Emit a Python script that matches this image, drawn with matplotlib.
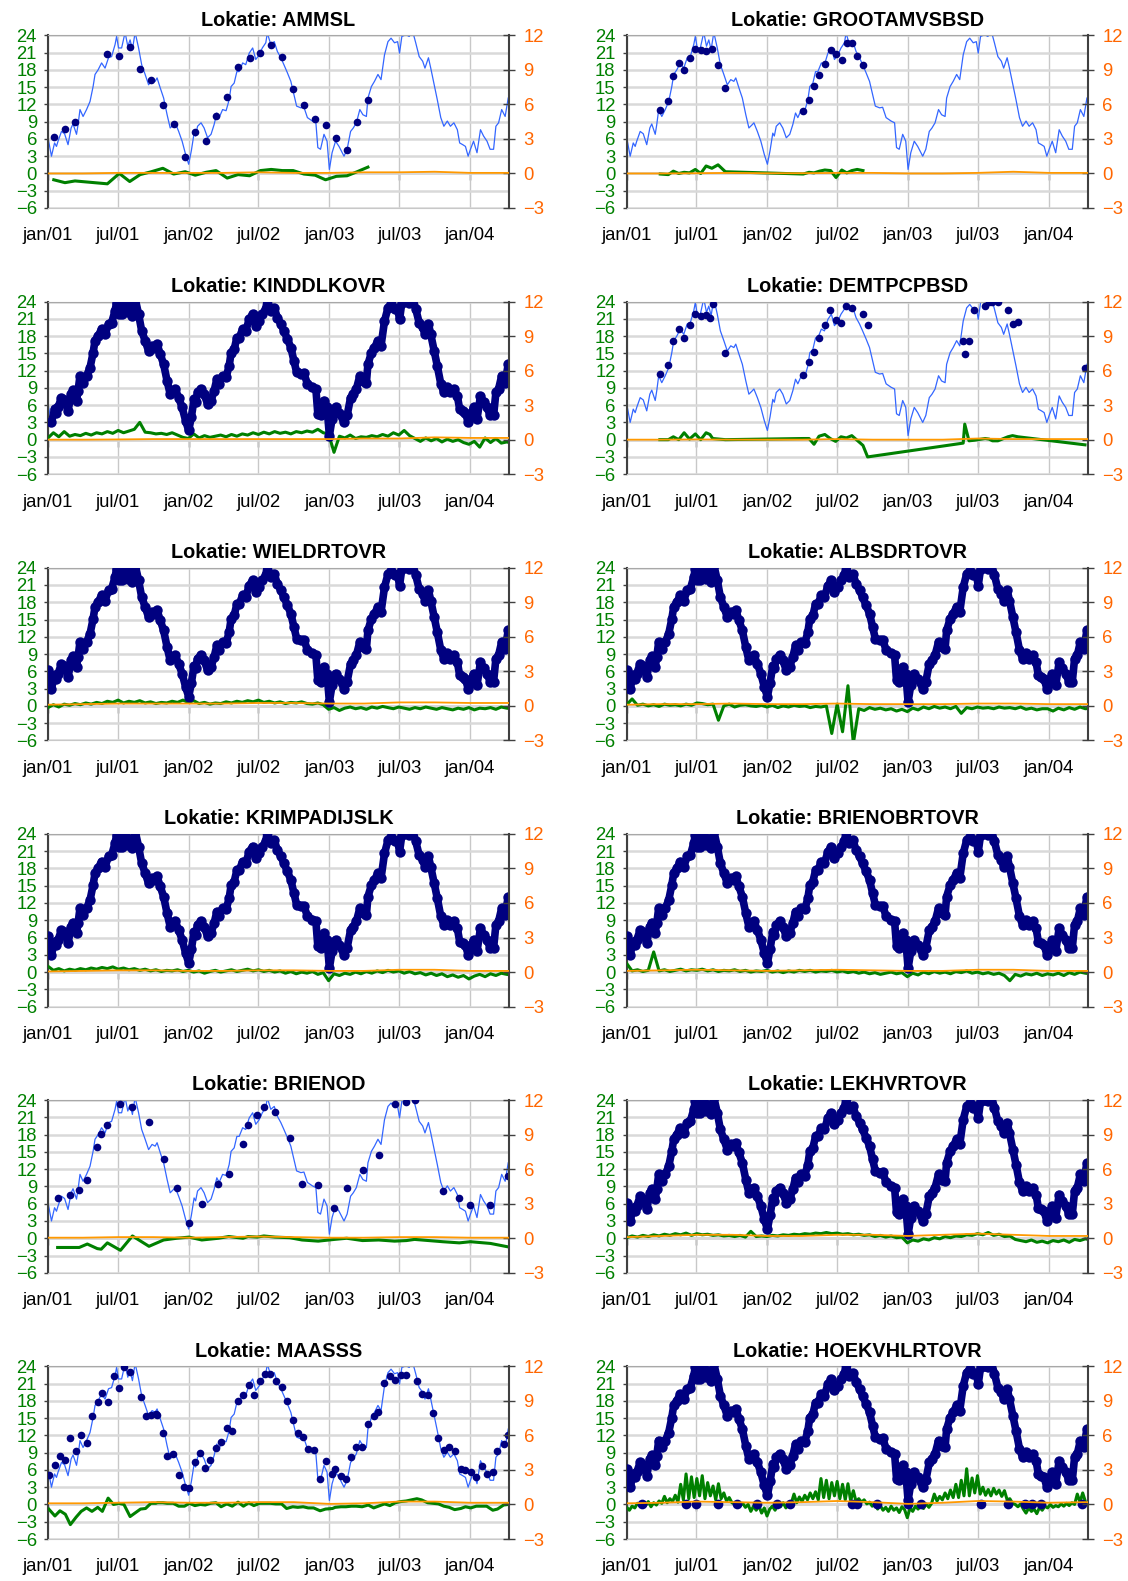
import matplotlib.pyplot as plt
import matplotlib.dates as mdates
import pandas as pd
import numpy as np

plt.rcParams['font.family'] = ['Liberation Sans', 'DejaVu Sans']

# shared reference temperature (blue line)
temp_dates = ['2001-01-01', '2001-01-10', '2001-01-18', '2001-01-23', '2001-01-27', '2001-02-05', '2001-02-13',
              '2001-02-22', '2001-03-02', '2001-03-07', '2001-03-16', '2001-03-20', '2001-03-25', '2001-04-02',
              '2001-04-11', '2001-04-20', '2001-04-28', '2001-05-03', '2001-05-11', '2001-05-20', '2001-05-29',
              '2001-06-07', '2001-06-15', '2001-06-24', '2001-06-28', '2001-07-03', '2001-07-11', '2001-07-20',
              '2001-07-27', '2001-08-02', '2001-08-08', '2001-08-15', '2001-08-24', '2001-09-01', '2001-09-10',
              '2001-09-19', '2001-09-28', '2001-10-06', '2001-10-11', '2001-10-19', '2001-10-28', '2001-11-06',
              '2001-11-14', '2001-11-23', '2001-11-27', '2001-12-06', '2001-12-15', '2001-12-24', '2002-01-01',
              '2002-01-08', '2002-01-15', '2002-01-19', '2002-01-24', '2002-02-02', '2002-02-10', '2002-02-19',
              '2002-02-28', '2002-03-08', '2002-03-15', '2002-03-21', '2002-03-30', '2002-04-08', '2002-04-16',
              '2002-04-21', '2002-04-29', '2002-05-06', '2002-05-12', '2002-05-21', '2002-05-29', '2002-06-07',
              '2002-06-16', '2002-06-24', '2002-07-03', '2002-07-11', '2002-07-20', '2002-07-24', '2002-08-02',
              '2002-08-11', '2002-08-19', '2002-08-28', '2002-09-05', '2002-09-14', '2002-09-23', '2002-10-01',
              '2002-10-08', '2002-10-19', '2002-10-27', '2002-11-05', '2002-11-18', '2002-11-27', '2002-12-02',
              '2002-12-09', '2002-12-18', '2002-12-26', '2003-01-01', '2003-01-08', '2003-01-17', '2003-01-26',
              '2003-02-08', '2003-02-16', '2003-02-25', '2003-03-04', '2003-03-12', '2003-03-21', '2003-03-29',
              '2003-04-07', '2003-04-11', '2003-04-20', '2003-04-28', '2003-05-07', '2003-05-15', '2003-05-24',
              '2003-06-02', '2003-06-10', '2003-06-19', '2003-06-27', '2003-07-02', '2003-07-08', '2003-07-19',
              '2003-07-27', '2003-08-05', '2003-08-13', '2003-08-22', '2003-08-31', '2003-09-06', '2003-09-15',
              '2003-09-21', '2003-09-30', '2003-10-08', '2003-10-17', '2003-10-25', '2003-11-03', '2003-11-11',
              '2003-11-20', '2003-11-29', '2003-12-05', '2003-12-13', '2003-12-20', '2003-12-27', '2004-01-02',
              '2004-01-10', '2004-01-19', '2004-01-28', '2004-02-05', '2004-02-14', '2004-02-22', '2004-03-02',
              '2004-03-08', '2004-03-15', '2004-03-23', '2004-04-01', '2004-04-09']
temp_vals = [6.2, 3.0, 5.3, 4.7, 5.6, 7.3, 6.9,
             5.0, 7.9, 8.6, 6.8, 8.5, 11.1, 9.9,
             11.1, 12.5, 15.1, 17.2, 18.0, 19.2, 18.3,
             20.1, 20.3, 22.4, 23.8, 21.8, 21.8, 24.5,
             22.1, 23.2, 21.5, 24.5, 21.8, 18.9, 17.2,
             15.4, 16.3, 16.0, 16.6, 14.9, 13.1, 10.2,
             7.9, 8.5, 8.8, 7.3, 5.6, 3.3, 1.6,
             4.0, 7.0, 6.5, 8.2, 8.8, 7.9, 6.2,
             6.8, 8.5, 10.5, 9.7, 11.1, 10.9, 12.8,
             15.1, 15.7, 17.7, 17.7, 19.2, 18.9, 20.9,
             21.8, 19.8, 20.6, 21.8, 22.7, 24.4, 22.4,
             22.9, 21.2, 20.1, 18.9, 17.5, 16.0, 13.7,
             11.7, 11.4, 11.5, 9.7, 9.1, 8.8, 4.5,
             4.2, 6.8, 5.6, 0.7, 3.6, 5.6, 4.7,
             3.0, 4.2, 7.3, 7.9, 8.8, 11.1, 10.2,
             9.9, 13.1, 15.1, 16.0, 17.2, 16.3, 20.6,
             22.9, 23.5, 22.7, 22.9, 20.9, 23.8, 24.1,
             23.8, 24.7, 22.7, 20.3, 19.5, 18.3, 20.1,
             18.3, 15.4, 12.8, 9.7, 8.2, 9.1, 8.2,
             8.8, 7.6, 5.3, 5.0, 4.7, 3.0, 4.2,
             5.6, 3.6, 7.6, 6.5, 5.6, 4.2, 4.2,
             8.2, 8.8, 11.1, 9.9, 13.1]

# sparse measurements: (date, measured temperature, difference)
ammsl_obs = [('2001-01-16', 6.3, -1.1), ('2001-02-14', 7.8, -1.6), ('2001-03-12', 9.0, -1.3),
             ('2001-06-04', 20.8, -1.8), ('2001-07-05', 20.4, 0.0), ('2001-08-01', 21.9, -1.4),
             ('2001-08-28', 18.1, -0.2), ('2001-09-26', 16.2, 0.3), ('2001-10-26', 11.9, 0.9),
             ('2001-11-23', 8.6, -0.1), ('2001-12-23', 2.8, 0.3), ('2002-01-18', 7.2, -0.3),
             ('2002-02-15', 5.7, 0.2), ('2002-03-13', 10.0, 0.5), ('2002-04-11', 13.3, -0.8),
             ('2002-05-09', 18.5, -0.2), ('2002-06-08', 20.0, -0.4), ('2002-07-06', 21.0, 0.5),
             ('2002-08-03', 22.3, 0.7), ('2002-09-01', 20.3, 0.5), ('2002-09-29', 14.6, 0.5),
             ('2002-10-27', 11.9, -0.1), ('2002-11-25', 9.4, -0.3), ('2002-12-22', 8.4, -1.1),
             ('2003-01-19', 6.1, -0.5), ('2003-02-16', 4.0, -0.4), ('2003-03-14', 8.9, 0.3),
             ('2003-04-11', 12.8, 1.1)]

groot_obs = [('2001-03-29', 11.1, -0.1), ('2001-04-19', 12.6, -0.2), ('2001-05-02', 16.9, 0.4),
             ('2001-05-16', 19.2, 0.0), ('2001-05-30', 17.9, 0.2), ('2001-06-13', 20.0, 0.1),
             ('2001-06-28', 21.7, 0.7), ('2001-07-12', 21.5, 0.0), ('2001-07-26', 21.3, 1.3),
             ('2001-08-10', 21.7, 0.9), ('2001-08-26', 18.9, 1.5), ('2001-09-14', 14.8, 0.3),
             ('2002-04-04', 10.8, -0.1), ('2002-04-19', 12.8, 0.2), ('2002-05-02', 15.2, 0.1),
             ('2002-05-16', 17.1, 0.4), ('2002-05-30', 19.0, 0.6), ('2002-06-14', 21.4, 0.5),
             ('2002-06-28', 20.8, -0.7), ('2002-07-13', 19.7, 0.6), ('2002-07-26', 22.7, 0.1),
             ('2002-08-08', 22.7, 0.5), ('2002-08-22', 20.4, 0.7), ('2002-09-06', 18.9, 0.5)]

demt_obs = [('2001-03-28', 11.4, 0.0), ('2001-04-19', 12.9, 0.0), ('2001-05-02', 17.1, 0.5),
            ('2001-05-16', 19.3, 0.0), ('2001-05-30', 17.6, 1.2), ('2001-06-13', 20.0, 0.1),
            ('2001-06-28', 21.9, 1.0), ('2001-07-12', 21.5, 0.0), ('2001-07-26', 21.7, 1.2),
            ('2001-08-05', 21.1, 0.9), ('2001-08-12', 23.5, 0.2), ('2001-09-14', 15.1, 0.0),
            ('2002-04-04', 11.3, 0.2), ('2002-04-19', 13.5, 0.2), ('2002-05-02', 15.3, -0.8),
            ('2002-05-15', 17.6, 0.6), ('2002-05-30', 20.0, 0.9), ('2002-06-13', 22.6, 0.2),
            ('2002-06-27', 20.7, -0.3), ('2002-07-11', 20.3, 0.5), ('2002-07-25', 23.2, 0.3),
            ('2002-08-08', 22.8, 0.7), ('2002-09-06', 21.9, -1.0), ('2002-09-18', 20.0, -3.0),
            ('2003-05-24', 17.1, -0.6), ('2003-05-28', 14.9, 2.7), ('2003-06-08', 17.1, -0.2),
            ('2003-06-22', 22.5, -0.1), ('2003-07-20', 23.2, 0.2), ('2003-07-30', 23.9, 0.1),
            ('2003-08-08', 24.0, -0.2), ('2003-08-22', 23.9, -0.2), ('2003-09-17', 22.6, 0.5),
            ('2003-09-29', 20.1, 0.7), ('2003-10-13', 20.4, 0.5), ('2004-04-04', 12.4, -0.9)]

brienod_obs = [('2001-01-26', 7.0, -1.6), ('2001-02-26', 7.5, -1.6), ('2001-03-23', 8.4, -1.6),
               ('2001-04-13', 10.2, -1.0), ('2001-05-09', 15.8, -1.8), ('2001-05-19', 18.1, -1.9),
               ('2001-06-04', 19.6, -0.8), ('2001-07-08', 23.3, -2.1), ('2001-08-08', 22.8, 0.4),
               ('2001-09-20', 20.2, -1.4), ('2001-10-28', 13.7, -0.3), ('2001-12-01', 8.8, 0.0),
               ('2002-01-02', 2.6, 0.2), ('2002-02-04', 6.0, -0.3), ('2002-03-19', 9.5, 0.0),
               ('2002-04-15', 11.2, 0.3), ('2002-05-22', 16.3, 0.0), ('2002-06-04', 19.6, 0.3),
               ('2002-06-28', 21.4, 0.2), ('2002-07-15', 22.8, 0.4), ('2002-08-13', 21.9, 0.2),
               ('2002-09-20', 17.5, 0.1), ('2002-10-22', 9.5, -0.3), ('2002-12-03', 9.3, -0.5),
               ('2003-01-14', 5.3, -0.2), ('2003-02-15', 8.8, 0.0), ('2003-03-28', 11.8, -0.4),
               ('2003-05-09', 14.4, -0.3), ('2003-06-19', 23.3, -0.5), ('2003-07-20', 23.7, -0.4),
               ('2003-08-10', 24.0, -0.2), ('2003-10-22', 8.2, -0.6), ('2003-12-04', 7.0, -0.8),
               ('2004-01-02', 5.8, -0.6), ('2004-02-23', 5.8, -0.9), ('2004-04-09', 10.9, -1.5)]

maas_obs = [('2001-01-03', 5.1, -0.8), ('2001-01-19', 6.9, -2.0), ('2001-02-01', 8.5, -1.1),
            ('2001-02-15', 7.8, -1.7), ('2001-02-28', 11.5, -3.5), ('2001-03-15', 9.2, -2.2),
            ('2001-03-28', 12.0, -1.2), ('2001-04-11', 10.7, -0.6), ('2001-04-25', 15.4, -1.2),
            ('2001-05-10', 17.8, -0.5), ('2001-05-22', 19.4, -1.2), ('2001-06-06', 17.8, 1.1),
            ('2001-06-20', 22.3, 0.0), ('2001-07-04', 20.3, 0.2), ('2001-07-17', 23.9, 0.0),
            ('2001-08-02', 23.0, -2.1), ('2001-08-29', 18.6, -0.8), ('2001-09-11', 15.4, -0.7),
            ('2001-09-25', 15.6, 0.2), ('2001-10-08', 15.7, 0.2), ('2001-10-12', 15.6, 0.3),
            ('2001-10-26', 12.5, 0.3), ('2001-11-06', 8.4, 0.2), ('2001-11-22', 8.8, 0.2),
            ('2001-12-06', 5.1, -0.3), ('2001-12-21', 3.0, -0.3), ('2002-01-03', 2.8, 0.2),
            ('2002-01-17', 7.3, -0.2), ('2002-01-31', 8.9, 0.0), ('2002-02-13', 6.4, -0.1),
            ('2002-02-26', 7.8, 0.2), ('2002-03-13', 9.8, 0.3), ('2002-03-26', 10.9, -0.4),
            ('2002-04-10', 13.2, 0.1), ('2002-04-24', 12.8, -0.3), ('2002-05-09', 18.0, 0.4),
            ('2002-05-23', 19.0, -0.3), ('2002-06-06', 20.7, 0.3), ('2002-06-19', 19.0, -0.2),
            ('2002-07-04', 21.4, 0.2), ('2002-07-17', 22.6, 0.2), ('2002-08-01', 22.6, 0.2),
            ('2002-08-15', 21.5, 0.1), ('2002-08-30', 20.4, 0.1), ('2002-09-12', 17.9, -0.7),
            ('2002-09-28', 14.7, -0.4), ('2002-10-11', 12.5, -0.5), ('2002-10-25', 11.8, -0.4),
            ('2002-11-07', 9.6, -0.6), ('2002-11-21', 9.5, -0.6), ('2002-12-08', 4.4, -1.1),
            ('2002-12-22', 7.6, -0.8), ('2003-01-09', 5.3, -0.7), ('2003-01-16', 6.2, -0.5),
            ('2003-01-31', 5.0, -0.4), ('2003-02-13', 4.5, -0.4), ('2003-02-27', 8.3, -0.3),
            ('2003-03-12', 10.0, -0.3), ('2003-03-27', 10.0, -0.4), ('2003-04-12', 14.0, -0.1),
            ('2003-04-26', 15.4, -0.6), ('2003-05-08', 16.0, -0.3), ('2003-05-24', 21.1, 0.1),
            ('2003-06-07', 22.3, -0.2), ('2003-06-21', 21.6, 0.3), ('2003-07-05', 22.5, 0.5),
            ('2003-07-19', 22.5, 0.6), ('2003-08-16', 21.4, 1.0), ('2003-08-28', 19.2, 0.8),
            ('2003-09-13', 19.0, 0.3), ('2003-09-27', 15.9, 0.2), ('2003-10-11', 11.5, 0.1),
            ('2003-10-25', 9.5, -0.3), ('2003-11-08', 9.9, -0.5), ('2003-11-22', 9.2, -0.9),
            ('2003-12-08', 6.2, -0.7), ('2003-12-20', 5.9, -0.4), ('2004-01-03', 5.6, -0.6),
            ('2004-01-17', 4.7, -0.3), ('2004-01-31', 6.7, -0.3), ('2004-02-13', 5.3, -0.3),
            ('2004-02-29', 5.7, -1.0), ('2004-03-12', 9.2, -0.8), ('2004-03-28', 10.5, -0.1),
            ('2004-04-09', 12.1, 0.0)]

# dense stations: difference every two weeks from 2001-01-01
kindd_diff = [0.3, 1.2, 0.5, 1.4, 0.6, 0.9, 0.7, 1.1, 0.8, 1.2, 1.0, 1.4, 1.1, 1.6, 1.2, 1.5, 1.8, 3.0, 1.3, 1.2,
              1.0, 1.1, 0.9, 1.2, 0.8, 0.4,
              0.2, 1.0, 0.3, 0.7, 0.4, 0.6, 0.8, 0.5, 0.9, 0.6, 1.0, 0.8, 1.2, 0.9, 1.3, 1.0, 1.4, 1.1, 1.3, 1.0,
              1.4, 1.2, 1.5, 1.3, 1.8, 1.2,
              1.0, -2.2, 0.6, 0.3, 0.8, 0.2, 0.5, 0.4, 0.7, 0.5, 0.9, 0.6, 1.2, 0.8, 1.6, 0.7, 0.2, -0.3, 0.3, -0.2,
              0.2, -0.4, 0.1, -0.3, 0.0, -0.5,
              -0.8, -0.3, -1.3, 0.3, -0.5, 0.2, -0.6, -0.4, -0.6]
wield_diff = [-0.3, 0.2, -0.2, 0.3, 0.1, 0.4, 0.2, 0.5, 0.3, 0.6, 0.4, 0.8, 0.6, 1.0, 0.5, 0.8, 0.6, 0.9, 0.5, 0.7,
              0.4, 0.6, 0.5, 0.8, 0.6, 1.0,
              0.6, 0.9, 0.4, 0.6, 0.3, 0.5, 0.4, 0.7, 0.5, 0.8, 0.6, 0.9, 0.7, 1.0, 0.6, 0.8, 0.5, 0.7, 0.4, 0.6,
              0.5, 0.7, 0.4, 0.3, 0.5, 0.2,
              -0.6, -0.3, -0.8, -0.4, -0.2, -0.5, -0.3, -0.6, -0.2, -0.4, -0.1, -0.3, -0.5, -0.2, -0.4, -0.6,
              -0.3, -0.5, -0.2, -0.4, -0.6, -0.3, -0.5, -0.7, -0.4, -0.6,
              -0.3, -0.7, -0.4, -0.5, -0.3, -0.6, -0.2, -0.4, -0.5]
albsd_diff = [0.2, 1.2, 0.1, 0.3, 0.0, 0.2, -0.1, 0.3, 0.1, 0.2, 0.0, 0.3, 0.1, 0.5, 0.4, 0.2, 0.3, -2.5, 0.0,
              0.3, -0.2, 0.1, 0.2, 0.0, -0.1, 0.1,
              -0.2, 0.1, -0.3, 0.0, -0.2, 0.1, -0.1, 0.0, -0.3, -0.1, -0.2, 0.0, -4.8, 0.3, -4.5, 3.5, -6.5,
              -0.5, -0.8, -0.3, -0.6, -0.4, -0.7, -0.5, -0.9, -0.6,
              -1.0, -0.4, -0.7, -0.2, -0.5, -0.1, -0.4, -0.2, -0.5, -0.1, -1.3, -0.3, -0.5, -0.2, -0.4, -0.3,
              -0.5, -0.2, -0.4, -0.3, -0.5, -0.2, -0.6, -0.4, -0.7, -0.5,
              -0.5, -0.9, -0.4, -0.7, -0.3, -0.6, -0.2, -0.5, -0.4]
krimp_diff = [1.0, 0.3, 0.6, 0.2, 0.5, 0.3, 0.6, 0.4, 0.7, 0.5, 0.8, 0.6, 0.9, 0.5, 0.7, 0.4, 0.6, 0.3, 0.5, 0.2,
              0.4, 0.1, 0.3, 0.2, 0.4, 0.1,
              0.3, 0.0, 0.2, -0.2, 0.1, 0.3, 0.0, 0.2, 0.4, 0.1, 0.3, 0.5, 0.2, 0.4, 0.1, 0.3, 0.0, 0.2, -0.2,
              0.1, -0.3, 0.0, -0.2, 0.1, -0.4, -0.1,
              -1.5, -0.3, -0.6, -0.2, -0.4, 0.0, -0.3, 0.1, -0.2, 0.2, -0.1, 0.3, 0.0, 0.2, -0.2, 0.1, -0.3,
              -0.1, -0.5, -0.2, -0.6, -0.3, -0.8, -0.5, -0.9, -0.6,
              -1.2, -0.7, -0.4, -0.8, -0.3, -0.6, -0.2, -0.4, -0.5]
brobr_diff = [1.5, 0.2, 0.4, 0.1, 0.3, 3.5, 0.2, 0.4, 0.1, 0.3, 0.5, 0.2, 0.4, 0.3, 0.5, 0.2, 0.4, 0.1, 0.3, 0.2,
              0.4, 0.1, 0.3, 0.0, 0.2, 0.1,
              0.3, 0.0, 0.2, -0.1, 0.2, 0.0, 0.3, 0.1, 0.3, 0.0, 0.2, 0.1, 0.3, 0.0, 0.2, -0.1, 0.1, -0.2, 0.0,
              -0.3, -0.1, -0.4, -0.2, 0.0, -0.3, -0.1,
              -0.8, -0.2, -0.5, 0.0, -0.3, 0.1, -0.2, 0.0, -0.3, 0.1, -0.1, 0.2, -0.2, 0.0, -0.3, -0.1, -0.4,
              -0.2, -0.6, -1.5, -0.4, -0.7, -0.3, -0.5, -0.2, -0.6,
              -0.3, -0.5, -0.2, -0.6, -0.1, -0.4, 0.0, -0.2, -0.3]
lekhv_diff = [0.1, 0.4, 0.2, 0.5, 0.3, 0.6, 0.4, 0.7, 0.5, 0.8, 0.6, 0.9, 0.5, 0.8, 0.6, 0.7, 0.5, 0.6, 0.4, 0.5,
              0.3, 0.5, 0.2, 1.2, 0.3, 0.4,
              0.3, 0.5, 0.4, 0.6, 0.5, 0.7, 0.6, 0.8, 0.7, 0.9, 0.8, 1.0, 0.8, 0.9, 0.7, 0.8, 0.6, 0.7, 0.5, 0.6,
              0.3, 0.5, 0.2, 0.4, 0.1, 0.2,
              -0.8, -0.3, -0.5, -0.1, -0.3, 0.1, -0.1, 0.3, 0.1, 0.4, 0.3, 0.6, 0.5, 0.8, 0.6, 1.0, 0.5, 0.7,
              0.3, 0.4, -0.2, -0.4, -0.6, -0.3, -0.7, -0.5,
              -0.8, -0.4, -0.6, -0.3, -0.7, -0.2, -0.4, -0.1, -0.3]

# Hoek van Holland: weekly difference from 2001-01-01
hoek_diff = [-0.5, -1.0, -0.3, -0.6, 0.2, -0.3, 0.4, -0.2, 0.5, -0.4, 0.3, -0.1, 0.6,
             0.2, 1.4, 0.3, 1.0, 0.5, 1.6, 0.4, 3.5, 0.8, 5.3, 1.0, 4.8, 1.2,
             4.5, 1.5, 5.0, 1.0, 3.8, 1.5, 3.2, 0.8, 3.6, 1.0, 2.0, 0.6, 1.2,
             0.3, 0.1, 0.4, -0.2, 0.2, -0.5, 0.0, -1.2, -0.3, -1.0, -0.2, -1.5, -0.6,
             -2.0, -0.8, -0.3, -1.0, 0.2, -0.4, 0.3, -0.6, 0.4, 0.2, 1.8, 0.3, 1.3,
             0.5, 1.6, 0.8, 2.0, 1.0, 2.2, 0.8, 4.5, 1.2, 4.2, 1.0, 3.8, 1.5,
             4.0, 1.0, 3.5, 0.8, 3.6, 0.6, 2.4, 0.5, 1.0, 0.4, 0.8, 0.1, 0.4,
             -0.3, 0.2, -0.8, -0.2, -1.0, -0.5, -1.2, -0.3, -1.0, -0.6, -1.4, -0.4, -0.9,
             -2.3, -0.6, -1.2, -0.3, -0.8, -0.2, -0.7, 0.1, -0.5, 0.2, 1.8, 0.6, 1.4,
             0.8, 2.0, 1.0, 2.5, 1.2, 3.5, 1.2, 4.2, 1.5, 6.2, 1.5, 4.6, 2.0,
             5.0, 1.8, 3.0, 1.6, 2.6, 1.5, 2.8, 1.8, 2.5, 1.4, 2.4, 0.8, 1.0,
             0.2, 0.0, -0.4, 0.1, -0.8, -1.5, -0.6, -1.2, -0.8, -1.6, -0.5, -1.0, -0.3,
             -0.6, 0.0, -0.5, -0.2, -0.4, 0.1, -0.3, 0.2, -0.2, 0.3, 0.0, 1.8, 0.4,
             2.0, 0.5]
hoek_zero_dates = ['2001-02-09', '2001-06-04', '2001-07-01', '2001-08-27', '2001-10-13', '2001-12-04',
                   '2002-01-26', '2002-03-01', '2002-08-09', '2002-08-22', '2002-10-13', '2003-01-01',
                   '2003-02-03', '2003-07-10', '2003-09-18', '2003-11-01', '2003-11-19', '2003-12-13',
                   '2004-03-28']

# orange line (right axis), quarterly from 2001-01-01
orange = {
    'AMMSL': [0, 0, 0.05, 0.05, 0.05, 0.05, 0.1, 0.05, 0.05, 0.1, 0.1, 0.15, 0.05, 0.05, 0.05],
    'GROOTAMVSBSD': [0, 0, 0.02, 0.05, 0.02, 0.02, 0.05, 0.05, 0, 0, 0.05, 0.15, 0.05, 0.05, 0.05],
    'KINDDLKOVR': [0, 0, 0.02, 0.05, 0.05, 0.05, 0.05, 0.05, 0.05, 0.1, 0.1, 0.2, 0.15, 0.15, 0.15],
    'DEMTPCPBSD': [0, 0, 0.02, 0, 0, 0, 0.05, 0, 0, 0, 0.1, 0.05, 0.05, 0.05, 0.05],
    'WIELDRTOVR': [0.1, 0.15, 0.2, 0.2, 0.2, 0.2, 0.25, 0.25, 0.2, 0.2, 0.3, 0.3, 0.25, 0.25, 0.25],
    'ALBSDRTOVR': [0.1, 0.15, 0.15, 0.2, 0.15, 0.15, 0.2, 0.15, 0.15, 0.15, 0.2, 0.2, 0.15, 0.15, 0.15],
    'KRIMPADIJSLK': [0.05, 0.1, 0.15, 0.15, 0.1, 0.1, 0.15, 0.15, 0.1, 0.1, 0.2, 0.2, 0.1, 0.1, 0.1],
    'BRIENOBRTOVR': [0.1, 0.15, 0.2, 0.15, 0.1, 0.15, 0.2, 0.15, 0.1, 0.1, 0.2, 0.2, 0.1, 0.1, 0.1],
    'BRIENOD': [0.05, 0.05, 0.1, 0.1, 0.05, 0.1, 0.15, 0.1, 0.05, 0.05, 0.1, 0.1, 0.05, 0.05, 0.05],
    'LEKHVRTOVR': [0.1, 0.2, 0.3, 0.3, 0.2, 0.2, 0.3, 0.3, 0.2, 0.3, 0.4, 0.3, 0.2, 0.2, 0.2],
    'MAASSS': [0.1, 0.1, 0.15, 0.2, 0.15, 0.15, 0.2, 0.2, 0.05, 0.1, 0.25, 0.25, 0.15, 0.15, 0.15],
    'HOEKVHLRTOVR': [0.1, 0.15, 0.25, 0.2, 0.15, 0.2, 0.3, 0.2, 0.05, 0.15, 0.3, 0.25, 0.15, 0.2, 0.2],
}

tick_dates = ['2001-01-01', '2001-07-01', '2002-01-01', '2002-07-01', '2003-01-01', '2003-07-01', '2004-01-01']
tick_labels = ['jan/01', 'jul/01', 'jan/02', 'jul/02', 'jan/03', 'jul/03', 'jan/04']

temp_t = pd.to_datetime(temp_dates)
temp_v = np.array(temp_vals)


def sparse(obs):
    d = pd.to_datetime([o[0] for o in obs])
    return d, [o[1] for o in obs], d, [o[2] for o in obs]


def dense(diff, start='2001-01-01', every='14D'):
    keep = temp_t >= pd.Timestamp(start)
    gd = pd.date_range('2001-01-01', periods=len(diff), freq=every)
    return temp_t[keep], temp_v[keep], gd, diff


panels = [
    ('AMMSL', sparse(ammsl_obs)),
    ('GROOTAMVSBSD', sparse(groot_obs)),
    ('KINDDLKOVR', dense(kindd_diff, start='2001-01-10')),
    ('DEMTPCPBSD', sparse(demt_obs)),
    ('WIELDRTOVR', dense(wield_diff)),
    ('ALBSDRTOVR', dense(albsd_diff)),
    ('KRIMPADIJSLK', dense(krimp_diff)),
    ('BRIENOBRTOVR', dense(brobr_diff)),
    ('BRIENOD', sparse(brienod_obs)),
    ('LEKHVRTOVR', dense(lekhv_diff)),
    ('MAASSS', sparse(maas_obs)),
    ('HOEKVHLRTOVR', dense(hoek_diff, every='7D')),
]
dense_names = ['KINDDLKOVR', 'WIELDRTOVR', 'ALBSDRTOVR', 'KRIMPADIJSLK', 'BRIENOBRTOVR', 'LEKHVRTOVR',
               'HOEKVHLRTOVR']

W, H = 1128, 1581
fig = plt.figure(figsize=(W / 100, H / 100), dpi=100)

DARK = '#404040'
NAVY = '#000080'
x0, x1 = pd.Timestamp('2001-01-01'), pd.Timestamp('2004-04-11')
ticks = pd.to_datetime(tick_dates)
qdates = pd.date_range('2001-01-01', periods=15, freq='QS')

for i, (name, (dd, dv, gd, gv)) in enumerate(panels):
    row, col = divmod(i, 2)
    left = 48 if col == 0 else 626.7
    top = 35.3 + 266.2 * row
    ax = fig.add_axes([left / W, 1 - (top + 172.7) / H, 461 / W, 172.7 / H])

    ax.plot(temp_t, temp_v, color='#3366ff', lw=0.9, zorder=2)
    ax.plot(gd, gv, color='#008000', lw=2.2, zorder=3)
    if name in dense_names:
        # daily series: the dots merge into a thick band
        ax.plot(dd, dv, '-o', color=NAVY, lw=5.5, ms=7.5, mew=0, zorder=4,
                solid_joinstyle='round', solid_capstyle='round')
        ms = 7
    else:
        ax.plot(dd, dv, 'o', color=NAVY, ms=5.5, mew=0, zorder=4)
        ms = 5.5
    if name == 'HOEKVHLRTOVR':
        zd = pd.to_datetime(hoek_zero_dates)
        ax.plot(zd, np.zeros(len(zd)), 'o', color=NAVY, ms=ms, mew=0, zorder=4)

    ax.set_xlim(x0, x1)
    ax.set_ylim(-6, 24)
    ax.set_yticks(range(-6, 25, 3))
    ax.set_xticks(ticks)
    ax.set_xticklabels(tick_labels)
    ax.grid(axis='y', color='#d9d9d9', lw=1.8)
    ax.grid(axis='x', color='#c8c8c8', lw=1.0)
    ax.set_axisbelow(True)
    ax.tick_params(axis='x', length=0, pad=14, labelsize=13.3)
    ax.tick_params(axis='y', direction='out', length=3, width=1, color=DARK, labelcolor='#008000',
                   labelsize=13.3, pad=5)
    ax.spines['left'].set_color(DARK)
    ax.spines['left'].set_linewidth(1.5)
    ax.spines['top'].set_color('#a8a8a8')
    ax.spines['bottom'].set_color('#c8c8c8')
    ax.spines['right'].set_visible(False)

    # horizontal axis crossing at zero
    sec = ax.secondary_xaxis(0.2)
    sec.set_xticks(ticks)
    sec.tick_params(axis='x', direction='out', length=5, width=1, color=DARK, labelbottom=False)
    sec.spines['bottom'].set_color(DARK)
    sec.spines['bottom'].set_linewidth(1.0)

    ax.set_title(f'Lokatie: {name}', fontsize=14.3, fontweight='bold', pad=7)

    ax2 = ax.twinx()
    ax2.plot(qdates, orange[name], color='#ff9900', lw=1.3, zorder=5)
    ax2.set_ylim(-3, 12)
    ax2.set_yticks(range(-3, 13, 3))
    ax2.set_xlim(x0, x1)
    ax2.tick_params(axis='y', direction='inout', length=9, width=1, color=DARK, labelcolor='#ff6600',
                    labelsize=13.3, pad=6)
    for s in ['left', 'top', 'bottom']:
        ax2.spines[s].set_visible(False)
    ax2.spines['right'].set_color(DARK)
    ax2.spines['right'].set_linewidth(1.5)

fig.savefig('out.png', dpi=100)
